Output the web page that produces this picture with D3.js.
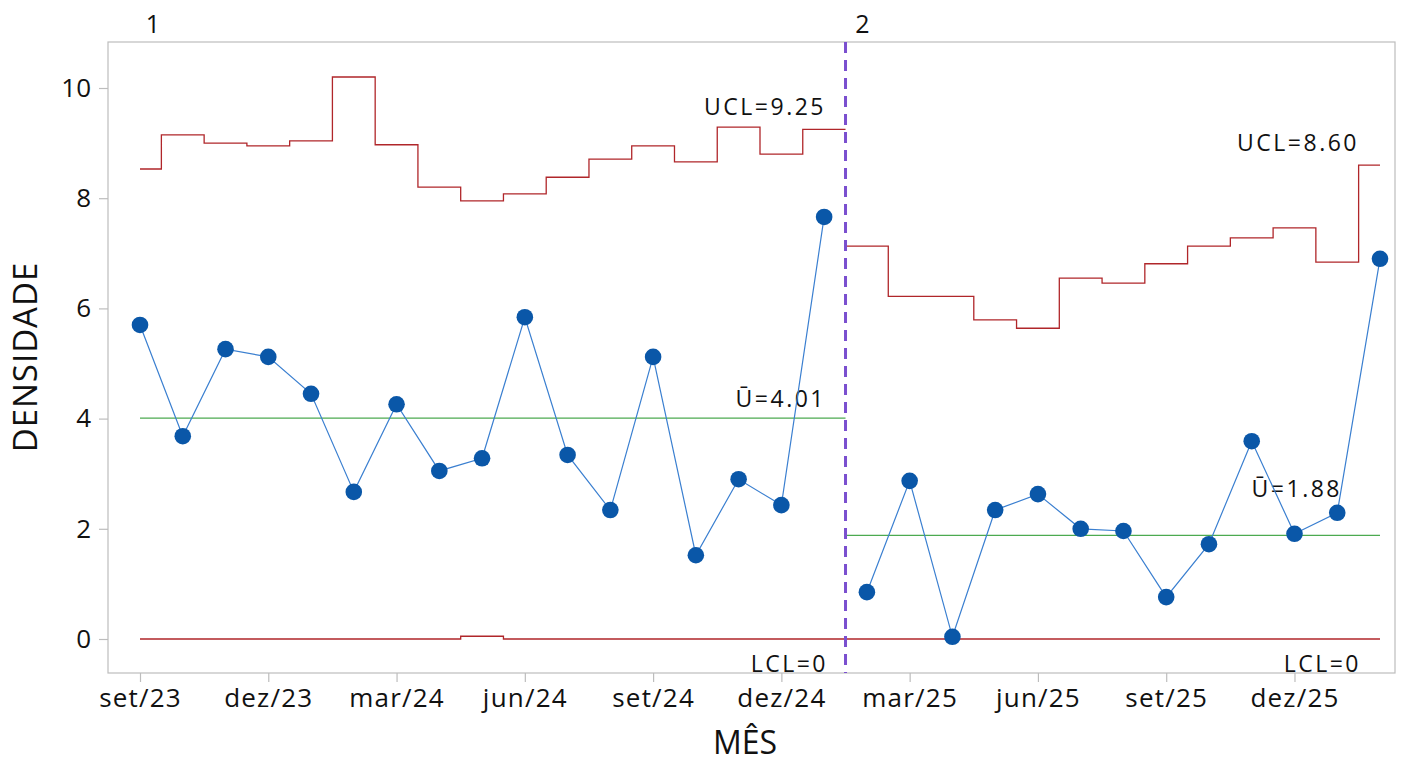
<!DOCTYPE html>
<html><head><meta charset="utf-8">
<script src="https://cdn.jsdelivr.net/npm/d3@7"></script>
<style>body{margin:0;background:#fff;} svg{display:block;} text{font-family:"Open Sans","Noto Sans",sans-serif;fill:#111;}</style>
</head><body>
<svg id="c" width="1404" height="764"></svg>
<script>
const months = ["set/23","out/23","nov/23","dez/23","jan/24","fev/24","mar/24","abr/24","mai/24","jun/24","jul/24","ago/24","set/24","out/24","nov/24","dez/24","jan/25","fev/25","mar/25","abr/25","mai/25","jun/25","jul/25","ago/25","set/25","out/25","nov/25","dez/25","jan/26","fev/26"];
const stage = [1,1,1,1,1,1,1,1,1,1,1,1,1,1,1,1,1,2,2,2,2,2,2,2,2,2,2,2,2,2];
const density = [5.70,3.68,5.26,5.12,4.45,2.67,4.26,3.05,3.28,5.84,3.34,2.34,5.12,1.52,2.90,2.43,7.66,0.85,2.87,0.04,2.34,2.63,2.00,1.96,0.76,1.72,3.59,1.91,2.29,6.90];
const ucl = [8.53,9.15,9.00,8.95,9.04,10.20,8.97,8.20,7.95,8.08,8.38,8.71,8.95,8.66,9.29,8.80,9.25,7.13,6.22,6.22,5.79,5.64,6.55,6.46,6.81,7.13,7.28,7.46,6.84,8.60];
const lcl = [0,0,0,0,0,0,0,0,0.05,0,0,0,0,0,0,0,0,0,0,0,0,0,0,0,0,0,0,0,0,0];
const centerLine = [4.01, 1.88];
const uclLabels = ["UCL=9.25","UCL=8.60"];
const clLabels = ["\u016A=4.01","\u016A=1.88"];
const lclLabels = ["LCL=0","LCL=0"];
const yTicks = [0,2,4,6,8,10];
const xTickIdx = [0,3,6,9,12,15,18,21,24,27];

const svg = d3.select("#c");
const L=108,R=1395,T=42,B=673;
const x = d3.scaleLinear().domain([0,29]).range([140,1380]);
const y = d3.scaleLinear().domain([0,10]).range([639,88]);

// frame
svg.append("rect").attr("x",L).attr("y",T).attr("width",R-L).attr("height",B-T)
  .attr("fill","none").attr("stroke","#bdbdbd").attr("stroke-width",1.2);

// axes
const ya = svg.append("g").attr("transform",`translate(${L},0)`)
  .call(d3.axisLeft(y).tickValues(yTicks).tickSize(9).tickPadding(8).tickFormat(d3.format("d")));
const xa = svg.append("g").attr("transform",`translate(0,${B})`)
  .call(d3.axisBottom(x).tickValues(xTickIdx).tickSize(9).tickPadding(7).tickFormat(i=>months[i]));
[ya,xa].forEach(g=>{
  g.select(".domain").remove();
  g.selectAll(".tick line").attr("stroke","#bdbdbd").attr("stroke-width",1.2);
  g.selectAll(".tick text").attr("font-size",26).style("font-family",'"Open Sans",sans-serif').attr("fill","#111");
});
xa.selectAll(".tick text").attr("letter-spacing",1.2);

svg.append("text").attr("transform","translate(37,357) rotate(-90)").attr("text-anchor","middle")
  .attr("font-size",33).attr("letter-spacing",1).text("DENSIDADE");
svg.append("text").attr("x",745).attr("y",754).attr("text-anchor","middle").attr("font-size",32).text("MÊS");

// step paths per stage
function stepPath(vals, idxs){
  const pts=[];
  idxs.forEach(i=>{
    const l = i===0?0:i-0.5, r = i===29?29:i+0.5;
    pts.push([x(l),y(vals[i])]); pts.push([x(r),y(vals[i])]);
  });
  return d3.line()(pts);
}
const stages=[1,2];
const clOffset=[11,38];
const labelEnd=[[826,826,828],[1359,1342,1361]];
stages.forEach((s,si)=>{
  const idxs = d3.range(30).filter(i=>stage[i]===s);
  const first=idxs[0], last=idxs[idxs.length-1];
  const l0 = first===0?0:first-0.5, r0 = last===29?29:last+0.5;
  svg.append("path").attr("d",stepPath(ucl,idxs)).attr("fill","none").attr("stroke","#b0262a").attr("stroke-width",1.3);
  svg.append("path").attr("d",stepPath(lcl,idxs)).attr("fill","none").attr("stroke","#b0262a").attr("stroke-width",1.3);
  svg.append("line").attr("x1",x(l0)).attr("x2",x(r0)).attr("y1",y(centerLine[si])).attr("y2",y(centerLine[si]))
    .attr("stroke","#4caa50").attr("stroke-width",1.3);
  const lab = (t,xx,yy)=>svg.append("text").attr("x",xx).attr("y",yy).attr("text-anchor","end").attr("font-size",23).attr("letter-spacing",2.5).text(t);
  lab(uclLabels[si], labelEnd[si][0], y(ucl[last])-14);
  lab(clLabels[si], labelEnd[si][1], y(centerLine[si])-clOffset[si]);
  lab(lclLabels[si], labelEnd[si][2], 672);
  svg.append("text").attr("x",x(l0)+ (si===0?13:17)).attr("y",33).attr("text-anchor","middle").attr("font-size",25).text(String(s));
});

// stage divider
svg.append("line").attr("x1",x(16.5)).attr("x2",x(16.5)).attr("y1",T).attr("y2",B)
  .attr("stroke","#7a4fcf").attr("stroke-width",3).attr("stroke-dasharray","11,7");

// data lines & points per stage
stages.forEach(s=>{
  const idxs = d3.range(30).filter(i=>stage[i]===s);
  svg.append("path").attr("d",d3.line().x(i=>x(i)).y(i=>y(density[i]))(idxs))
    .attr("fill","none").attr("stroke","#3a7fd0").attr("stroke-width",1.2);
  svg.selectAll(null).data(idxs).enter().append("circle")
    .attr("cx",i=>x(i)).attr("cy",i=>y(density[i])).attr("r",8.3).attr("fill","#0a57a8");
});
</script>
</body></html>
